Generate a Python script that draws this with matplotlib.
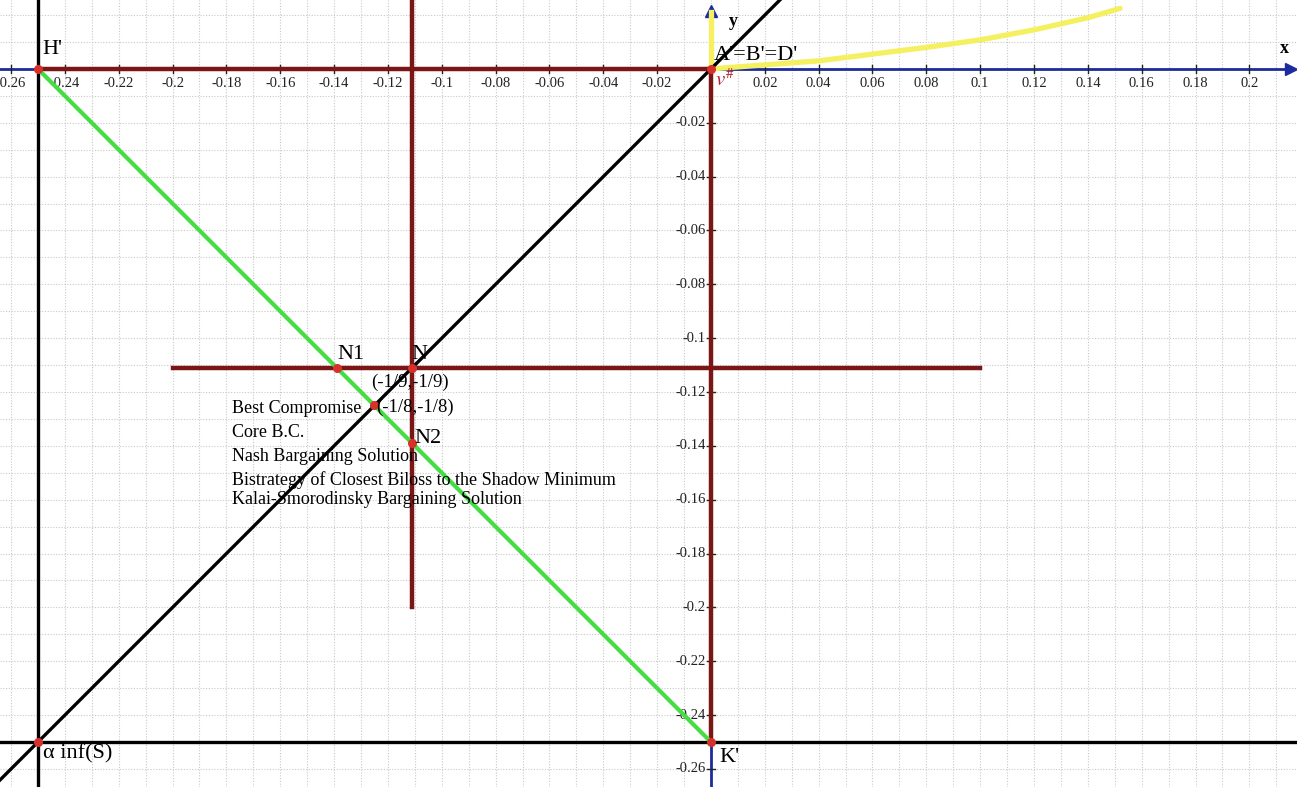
import numpy as np
import matplotlib; matplotlib.use("Agg")
import matplotlib.pyplot as plt

plt.rcParams["font.family"] = ["Liberation Serif", "DejaVu Serif"]
plt.rcParams["mathtext.fontset"] = "stix"

# named points of the game
H = (-0.25, 0.0)
K = (0.0, -0.25)
ALPHA = (-0.25, -0.25)
ORIGIN = (0.0, 0.0)
N = (-1/9, -1/9)
N1 = (-5/36, -1/9)
N2 = (-1/9, -5/36)
BC = (-1/8, -1/8)

# yellow boundary curve
curve_x = [0.0, 0.02, 0.04, 0.06, 0.08, 0.10, 0.12, 0.14, 0.152]
curve_y = [0.0, 0.0015, 0.0030, 0.0055, 0.0080, 0.0108, 0.0145, 0.0190, 0.0225]

xtick_vals = [-0.26, -0.24, -0.22, -0.2, -0.18, -0.16, -0.14, -0.12, -0.1, -0.08, -0.06,
              -0.04, -0.02, 0.02, 0.04, 0.06, 0.08, 0.1, 0.12, 0.14, 0.16, 0.18, 0.2]
ytick_vals = [-0.02, -0.04, -0.06, -0.08, -0.1, -0.12, -0.14, -0.16, -0.18, -0.2,
              -0.22, -0.24, -0.26]

legend_lines = ["Best Compromise", "Core B.C.", "Nash Bargaining Solution",
                "Bistrategy of Closest Biloss to the Shadow Minimum",
                "Kalai-Smorodinsky Bargaining Solution"]

MAROON = "#7a1616"
BLUE = "#1c2c9c"
GREEN = "#44dd44"
YELLOW = "#f5f060"
DOT = "#d8302a"

fig = plt.figure(figsize=(12.97, 7.87), dpi=100)
ax = fig.add_axes([0, 0, 1, 1])
for s in ax.spines.values():
    s.set_visible(False)

# dotted grid every 0.01
ax.set_xticks(np.round(np.arange(-26, 22) * 0.01, 2))
ax.set_yticks(np.round(np.arange(-26, 3) * 0.01, 2))
ax.tick_params(length=0, labelbottom=False, labelleft=False)
ax.grid(True, color="#c8c8c8", linestyle=(0, (1, 1.5)), linewidth=0.8)
ax.set_xlim(-0.2641, 0.2177)
ax.set_ylim(-0.2667, 0.0256)

# coordinate axes
ax.plot([-0.27, 0.2135], [0, 0], color=BLUE, lw=2, zorder=2)
ax.plot([0, 0], [-0.27, 0.019], color=BLUE, lw=2, zorder=2)
ax.plot([0.2155], [0], marker=">", ms=9, color=BLUE, zorder=2)
ax.plot([0], [0.0215], marker="^", ms=9, color=BLUE, zorder=2)
for v in xtick_vals:
    ax.plot([v, v], [-0.0015, 0.0015], color="#222222", lw=1, zorder=2)
    ax.text(v, -0.0055, f"{v:g}", ha="center", va="center", fontsize=10.5, color="#222222")
for v in ytick_vals:
    ax.plot([-0.0015, 0.0015], [v, v], color="#222222", lw=1, zorder=2)
    ax.text(-0.0019, v, f"{v:g}", ha="right", va="center", fontsize=10.5, color="#222222")
ax.text(0.2112, 0.0075, "x", fontsize=13, fontweight="bold", va="center")
ax.text(0.0068, 0.0178, "y", fontsize=13, fontweight="bold", va="center")

# yellow curve
ax.plot(curve_x, curve_y, color=YELLOW, lw=3.8, solid_capstyle="round", zorder=3)
ax.plot([0, 0], [0, 0.0210], color=YELLOW, lw=3.8, zorder=3)

# maroon lines
ax.plot([H[0], ORIGIN[0]], [H[1], ORIGIN[1]], color=MAROON, lw=3.2, zorder=4)
ax.plot([ORIGIN[0], K[0]], [ORIGIN[1], K[1]], color=MAROON, lw=3.2, zorder=4)
ax.plot([-0.2, 0.1], [N[1], N[1]], color=MAROON, lw=3.2, zorder=4)
ax.plot([N[0], N[0]], [-0.2, 0.1], color=MAROON, lw=3.2, zorder=4)

# black lines
ax.axvline(ALPHA[0], color="black", lw=2.4, zorder=5)
ax.axhline(ALPHA[1], color="black", lw=2.4, zorder=5)
ax.plot([-0.3, 0.1], [-0.3, 0.1], color="black", lw=2.4, zorder=5)

# green segment H'K'
ax.plot([H[0], K[0]], [H[1], K[1]], color=GREEN, lw=3, zorder=6)

pts = [H, K, ALPHA, ORIGIN, N, N1, N2, BC]
ax.scatter([p[0] for p in pts], [p[1] for p in pts], s=30, color=DOT, zorder=7)

lab = dict(fontsize=16, va="center", zorder=8)
ax.text(-0.2485, 0.0071, "H'", **lab)
ax.text(0.0012, 0.0050, "A'=B'=D'", **lab)
ax.text(0.0015, -0.0040, r"$v^{\#}$", fontsize=15, color="#b02030", va="center", zorder=8)
ax.text(-0.1386, -0.1059, "N1", **lab)
ax.text(-0.1114, -0.1059, "N", **lab)
ax.text(-0.1103, -0.1371, "N2", **lab)
ax.text(0.0030, -0.2556, "K'", **lab)
ax.text(-0.2481, -0.2545, r"α inf(S)", **lab)
ax.text(-0.1262, -0.1164, "(-1/9,-1/9)", fontsize=13.5, va="center", zorder=8)
ax.text(-0.1245, -0.1256, "(-1/8,-1/8)", fontsize=13.5, va="center", zorder=8)

for txt, yv in zip(legend_lines, [-0.1263, -0.1352, -0.1441, -0.1527, -0.1601]):
    ax.text(-0.1779, yv, txt, fontsize=13, va="center", zorder=8)

fig.savefig("out.png", dpi=100)
